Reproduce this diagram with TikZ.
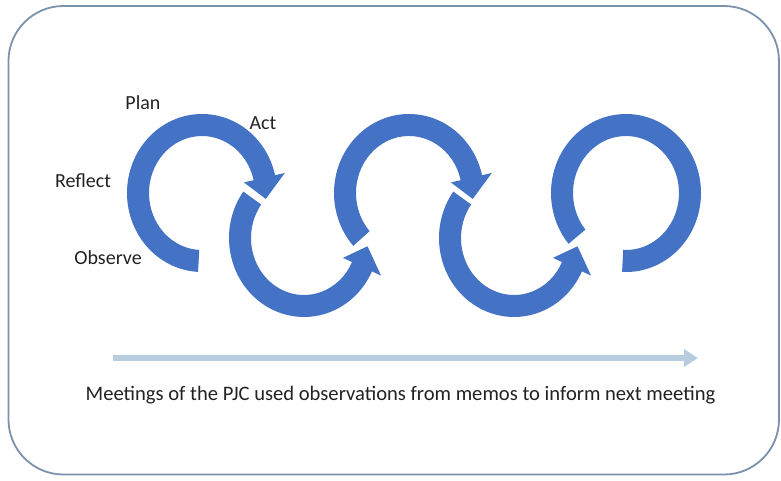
\documentclass[tikz,border=0pt]{standalone}
\usepackage{fontspec}
\setmainfont{Carlito}
\usetikzlibrary{arrows.meta}
\definecolor{ringblue}{RGB}{68,114,196}
\definecolor{framegray}{RGB}{124,145,172}
\definecolor{timeline}{RGB}{184,204,224}
\definecolor{inkgray}{RGB}{34,34,34}

% one arc of the cycle with an arrowhead at its end
% #1 centre, #2 start angle, #3 angle of the arrowhead base, #4 angle of the tip
\newcommand{\cyclearc}[4]{%
  \begin{scope}[shift={#1}]
    \fill[ringblue] (#2:75 and 79)
      arc[start angle=#2, end angle=#3, x radius=75, y radius=79]
      -- (#3:85 and 89) -- (#4:64 and 68) -- (#3:43 and 47) -- (#3:53 and 57)
      arc[start angle=#3, end angle=#2, x radius=53, y radius=57] -- cycle;
  \end{scope}}

\begin{document}
\begin{tikzpicture}[x=1pt,y=1pt,
  phase/.style={font=\fontsize{20}{24}\selectfont, text=inkgray, inner sep=0pt},
  caption/.style={font=\fontsize{20.6}{24}\selectfont, text=inkgray, inner sep=0pt}]
\useasboundingbox (0,0) rectangle (781,480);

% frame
\draw[framegray, line width=1.8pt, rounded corners=55pt] (8.5,5.5) rectangle (779,474);

% the chain of cycles
\cyclearc{(202,287)}{267}{13}{-5}
\cyclearc{(304,242)}{144}{335}{353}
\cyclearc{(409,287)}{222}{13}{-5}
\cyclearc{(514,242)}{144}{335}{353}
\begin{scope}[shift={(626,287)}]
  \fill[ringblue] (220:75 and 79)
    arc[start angle=220, end angle=-93, x radius=75, y radius=79]
    -- (-93:53 and 57)
    arc[start angle=-93, end angle=220, x radius=53, y radius=57] -- cycle;
\end{scope}

% phase labels
\node[phase] (plan) at (143,377) {Plan};
\node[phase] (act) at (263,357) {Act};
\node[phase] (reflect) at (83,299) {Reflect};
\node[phase] (observe) at (108,222) {Observe};

% time line
\coordinate (tstart) at (113,122);
\coordinate (tend) at (698,122);
\draw[timeline, line width=6pt, -{Triangle[length=14pt,width=17pt]}] (tstart) -- (tend);

\node[caption] (caption) at (400.5,85) {Meetings of the PJC used observations from memos to inform next meeting};
\end{tikzpicture}
\end{document}
